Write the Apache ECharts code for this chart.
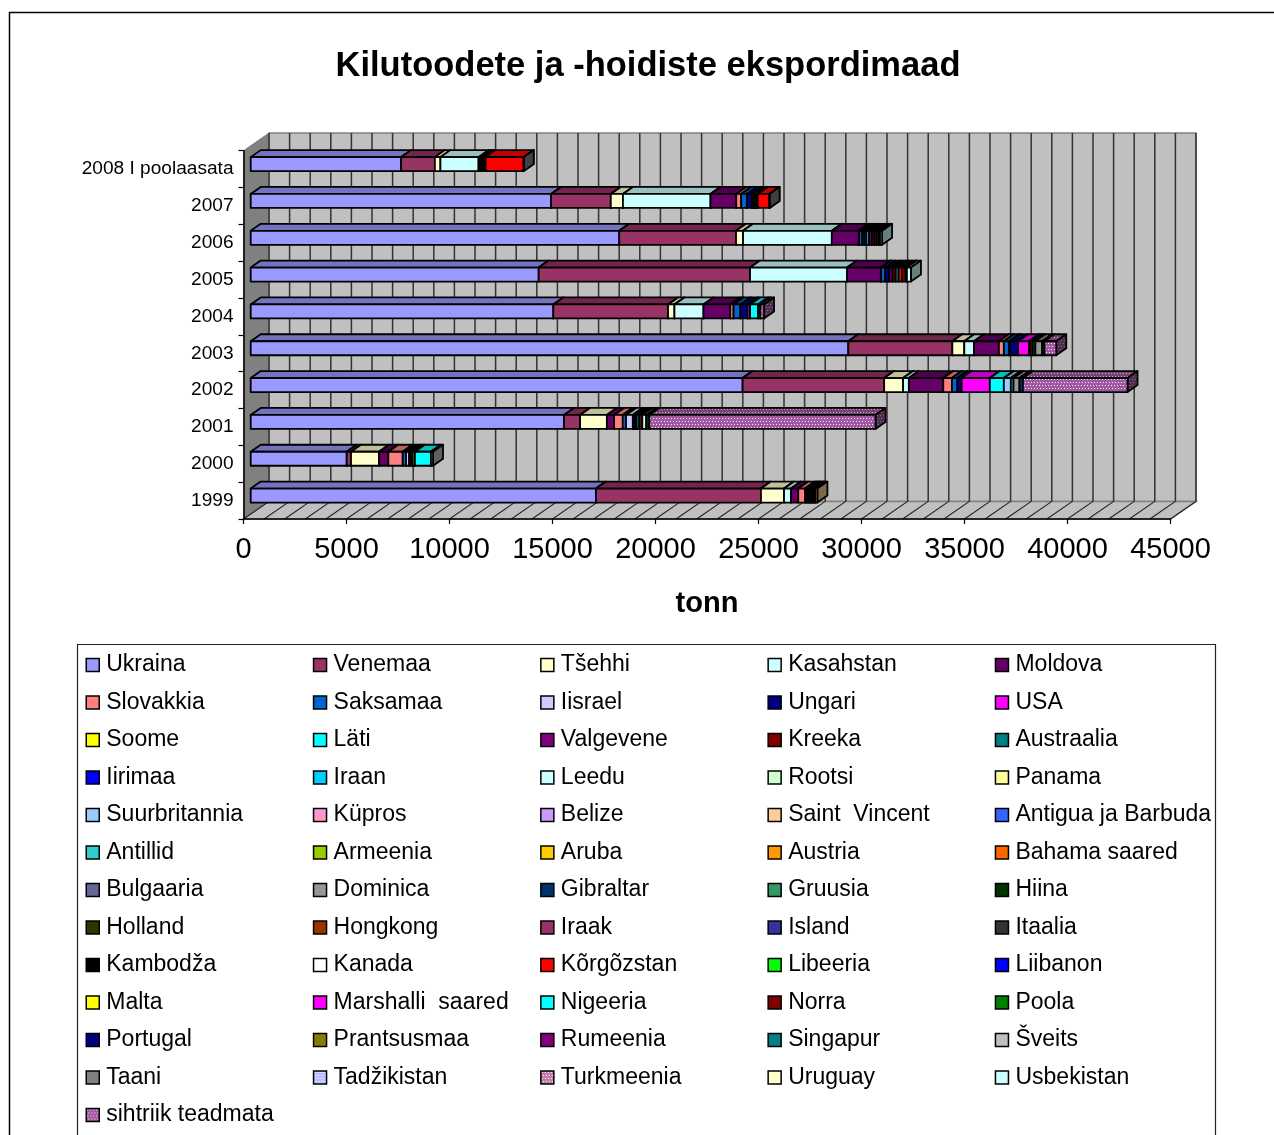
<!DOCTYPE html>
<html><head><meta charset="utf-8">
<style>html,body{margin:0;padding:0;background:#fff}#c{width:1274px;height:1135px}</style>
<script src="https://cdn.jsdelivr.net/npm/echarts@6/dist/echarts.min.js"></script>
</head><body><div id="c"></div>
<script>
const chartTitle = 'Kilutoodete ja -hoidiste ekspordimaad';
const axisName = 'tonn';
const years = ['1999','2000','2001','2002','2003','2004','2005','2006','2007','2008 I poolaasata'];
const xMax = 45000, xTickStep = 5000, gridStep = 1000;

// tonnes per year, in the order of years
const ukraina    = [16760,4660,15210,23880,29010,14690,13980,17890,14580,7300];
const venemaa    = [8010,210,780,6870,5050,5570,10260,5670,2900,1640];
const tsehhi     = [1120,1360,1300,920,580,310,0,340,590,270];
const kasahstan  = [340,0,0,280,470,1410,4710,4310,4250,1850];
const moldova    = [350,450,350,1670,1210,1300,1640,1310,1250,85];
const slovakkia  = [330,700,420,420,240,160,15,20,240,85];
const saksamaa   = [75,160,160,260,260,330,200,150,280,85];
const iisrael    = [75,150,330,0,40,0,0,0,0,0];
const ungari     = [75,90,100,210,390,350,200,100,240,85];
const usa        = [50,90,90,1370,530,120,0,100,0,0];
const soome      = [0,100,0,0,0,0,0,0,0,0];
const lati       = [75,780,120,680,70,390,0,130,70,0];
const valgevene  = [75,0,0,0,0,0,150,130,70,0];
const kreeka     = [75,0,150,0,120,0,150,130,70,0];
const austraalia = [0,0,0,0,120,0,150,100,70,0];
const leedu      = [0,0,190,0,0,0,0,0,0,0];
const suurbritannia = [0,0,0,340,0,0,0,0,0,0];
const saintVincent  = [100,0,0,0,0,0,0,0,0,0];
const antillid   = [0,0,0,130,0,0,0,0,0,0];
const dominica   = [0,0,0,290,325,0,0,0,0,0];
const gibraltar  = [0,0,0,165,0,0,0,0,0,0];
const hiina      = [0,0,150,0,120,110,0,0,0,0];
const korgozstan = [0,0,0,0,0,0,170,100,570,1850];
const norra      = [0,0,0,0,0,0,170,70,0,0];
const portugal   = [0,0,0,0,0,0,60,0,0,0];
const sveits     = [0,100,0,0,0,0,0,0,0,0];
const taani      = [0,0,0,0,0,0,0,0,10,5];
const usbekistan = [0,0,0,0,0,0,195,100,0,0];
const sihtriik   = [0,0,10980,5080,570,180,0,0,0,0];
const noData     = [0,0,0,0,0,0,0,0,0,0];

const countryNames = ['Ukraina','Venemaa','Tšehhi','Kasahstan','Moldova','Slovakkia','Saksamaa','Iisrael','Ungari','USA','Soome','Läti','Valgevene','Kreeka','Austraalia','Iirimaa','Iraan','Leedu','Rootsi','Panama','Suurbritannia','Küpros','Belize','Saint  Vincent','Antigua ja Barbuda','Antillid','Armeenia','Aruba','Austria','Bahama saared','Bulgaaria','Dominica','Gibraltar','Gruusia','Hiina','Holland','Hongkong','Iraak','Island','Itaalia','Kambodža','Kanada','Kõrgõzstan','Libeeria','Liibanon','Malta','Marshalli  saared','Nigeeria','Norra','Poola','Portugal','Prantsusmaa','Rumeenia','Singapur','Šveits','Taani','Tadžikistan','Turkmeenia','Uruguay','Usbekistan','sihtriik teadmata'];
const countryValues = [ukraina,venemaa,tsehhi,kasahstan,moldova,slovakkia,saksamaa,iisrael,ungari,usa,soome,lati,valgevene,kreeka,austraalia,noData,noData,leedu,noData,noData,suurbritannia,noData,noData,saintVincent,noData,antillid,noData,noData,noData,noData,noData,dominica,gibraltar,noData,hiina,noData,noData,noData,noData,noData,noData,noData,korgozstan,noData,noData,noData,noData,noData,norra,noData,portugal,noData,noData,noData,sveits,taani,noData,noData,noData,usbekistan,sihtriik];
const countryColors = ['#9999FF','#993366','#FFFFCC','#CCFFFF','#660066','#FF8080','#0066CC','#CCCCFF','#000080','#FF00FF','#FFFF00','#00FFFF','#800080','#800000','#008080','#0000FF','#00CCFF','#CCFFFF','#CCFFCC','#FFFF99','#99CCFF','#FF99CC','#CC99FF','#FFCC99','#3366FF','#33CCCC','#99CC00','#FFCC00','#FF9900','#FF6600','#666699','#969696','#003366','#339966','#003300','#333300','#993300','#993366','#333399','#333333','#000000','#FFFFFF','#FF0000','#00FF00','#0000FF','#FFFF00','#FF00FF','#00FFFF','#800000','#008000','#000080','#808000','#800080','#008080','#C0C0C0','#808080','pat:#BCBCFF:#FFFFFF','pat:#C47CA8:#FFF4FA','#FFFFCC','#CCFFFF','pat:#A058A0:#F8E8F8'];

// --- presentation ---
const wall = {dx: 25.5, dy: -17.6};
const bar = {dx: 7.2, dy: -5, depthX: 10, depthY: -7, h: 14};
const legendLeft = [85.5, 312.8, 540.1, 767.4, 994.7];

function shade(hex, f) {
  const n = parseInt(hex.slice(1), 16);
  const c = [(n >> 16) & 255, (n >> 8) & 255, n & 255].map(v => Math.round(v * f));
  return 'rgb(' + c.join(',') + ')';
}
function paint(color, f) {
  if (color.indexOf('pat:') !== 0) return shade(color, f);
  const parts = color.split(':');
  const cv = document.createElement('canvas');
  cv.width = cv.height = 6;
  const g = cv.getContext('2d');
  g.fillStyle = shade(parts[1], f); g.fillRect(0, 0, 6, 6);
  g.fillStyle = shade(parts[2], f);
  [[1, 1], [4, 1], [2, 4], [5, 4]].forEach(p => g.fillRect(p[0], p[1], 1, 1));
  return {image: cv, repeat: 'repeat'};
}

function barRender(i) {
  const front = paint(countryColors[i], 1), top = paint(countryColors[i], .75), side = paint(countryColors[i], .5);
  return function (params, api) {
    const y = api.coord([0, api.value(0)])[1] + bar.dy - bar.h / 2;
    const x0 = api.coord([api.value(1), api.value(0)])[0] + bar.dx;
    const x1 = api.coord([api.value(2), api.value(0)])[0] + bar.dx;
    const stroke = {stroke: '#000', lineWidth: 1.8, lineJoin: 'round'};
    const ex = bar.depthX, ey = bar.depthY, h = bar.h;
    return {type: 'group', children: [
      {type: 'polygon', shape: {points: [[x0, y], [x0 + ex, y + ey], [x1 + ex, y + ey], [x1, y]]}, style: {fill: top, ...stroke}},
      {type: 'polygon', shape: {points: [[x1, y], [x1 + ex, y + ey], [x1 + ex, y + ey + h], [x1, y + h]]}, style: {fill: side, ...stroke}},
      {type: 'rect', shape: {x: x0, y: y, width: x1 - x0, height: h}, style: {fill: front, ...stroke}}
    ]};
  };
}

const barSeries = countryNames.map((name, i) => {
  const vals = countryValues[i];
  const data = [];
  years.forEach((yr, k) => {
    let start = 0;
    for (let j = 0; j < i; j++) start += countryValues[j][k];
    if (vals[k] > 0) data.push([k, start, start + vals[k]]);
  });
  return {
    type: 'custom', name, coordinateSystem: 'cartesian2d', z: 10 + i, silent: true, clip: false,
    itemStyle: {color: paint(countryColors[i], 1)},
    encode: {y: 0, x: [1, 2]}, data, renderItem: barRender(i)
  };
});

const gridValues = [];
for (let v = 0; v <= xMax; v += gridStep) gridValues.push(v);

const wallSeries = {
  type: 'custom', coordinateSystem: 'cartesian2d', z: 3, silent: true, clip: false,
  data: [[0, 0]], encode: {x: 0, y: 1},
  renderItem(params) {
    const c = params.coordSys, L = c.x, R = c.x + c.width, T = c.y, B = c.y + c.height;
    const dx = wall.dx, dy = wall.dy;
    return {type: 'group', children: [
      {type: 'polygon', shape: {points: [[L + dx, T + dy], [R + dx, T + dy], [R + dx, B + dy], [L + dx, B + dy]]}, style: {fill: '#C0C0C0', stroke: '#808080', lineWidth: 1.5}},
      {type: 'polygon', shape: {points: [[L, B], [R, B], [R + dx, B + dy], [L + dx, B + dy]]}, style: {fill: '#C0C0C0', stroke: '#808080', lineWidth: 1.5}},
      {type: 'polygon', shape: {points: [[L, T], [L + dx, T + dy], [L + dx, B + dy], [L, B]]}, style: {fill: '#808080', stroke: '#808080', lineWidth: 1}}
    ]};
  }
};
const gridSeries = {
  type: 'custom', coordinateSystem: 'cartesian2d', z: 4, silent: true, clip: false,
  data: gridValues.map(v => [v, 0]), encode: {x: 0, y: 1},
  renderItem(params, api) {
    const c = params.coordSys, T = c.y, B = c.y + c.height, x = api.coord([api.value(0), 0])[0];
    const dx = wall.dx, dy = wall.dy;
    return {type: 'group', children: [
      {type: 'line', shape: {x1: x + dx, y1: T + dy, x2: x + dx, y2: B + dy}, style: {stroke: '#333', lineWidth: 1.5}},
      {type: 'line', shape: {x1: x, y1: B, x2: x + dx, y2: B + dy}, style: {stroke: '#222', lineWidth: 1.1}}
    ]};
  }
};

const legends = legendLeft.map((left, col) => ({
  orient: 'vertical', left, top: 653, padding: 0, itemGap: 13.5, itemWidth: 13, itemHeight: 13,
  icon: 'rect', selectedMode: false,
  itemStyle: {borderColor: '#000', borderWidth: 1.5},
  textStyle: {fontFamily: '"Liberation Sans"', fontSize: 23, lineHeight: 24, color: '#000', padding: [0, 0, 0, 2]},
  data: countryNames.filter((n, i) => i % 5 === col)
}));

const chart = echarts.init(document.getElementById('c'), null, {renderer: 'canvas'});
chart.setOption({
  animation: false,
  backgroundColor: '#fff',
  title: {text: chartTitle, left: 648, top: 49, textAlign: 'center', padding: 0,
    textStyle: {fontFamily: '"Liberation Sans"', fontWeight: 'bold', fontSize: 34.5, color: '#000'}},
  grid: {left: 243.5, top: 150.7, width: 927, height: 368.3, containLabel: false},
  xAxis: {type: 'value', min: 0, max: xMax, interval: xTickStep, z: 6,
    name: axisName, nameLocation: 'middle', nameGap: 70,
    nameTextStyle: {fontFamily: '"Liberation Sans"', fontWeight: 'bold', fontSize: 29, color: '#000'},
    axisLine: {show: true, onZero: false, lineStyle: {color: '#000', width: 1.5}},
    axisTick: {show: true, length: 5, lineStyle: {color: '#000', width: 1.2}},
    axisLabel: {fontFamily: '"Liberation Sans"', fontSize: 29, color: '#000', margin: 16, hideOverlap: false,
      formatter: v => String(v)},
    splitLine: {show: false}},
  yAxis: {type: 'category', data: years, z: 6,
    axisLine: {show: true, onZero: false, lineStyle: {color: '#000', width: 1.5}},
    axisTick: {show: true, length: 5, alignWithLabel: false, lineStyle: {color: '#000', width: 1.2}},
    axisLabel: {fontFamily: '"Liberation Sans"', fontSize: 19.1, color: '#000', margin: 10, padding: [0, 0, 4, 0]},
    splitLine: {show: false}},
  legend: legends,
  graphic: [
    {type: 'rect', z: -1, silent: true, shape: {x: 9.5, y: 12.5, width: 1400, height: 1300}, style: {fill: 'none', stroke: '#000', lineWidth: 1.5}},
    {type: 'rect', z: -1, silent: true, shape: {x: 77.5, y: 644.5, width: 1138, height: 600}, style: {fill: '#fff', stroke: '#222', lineWidth: 1.2}}
  ],
  series: [wallSeries, gridSeries].concat(barSeries)
});
</script></body></html>
